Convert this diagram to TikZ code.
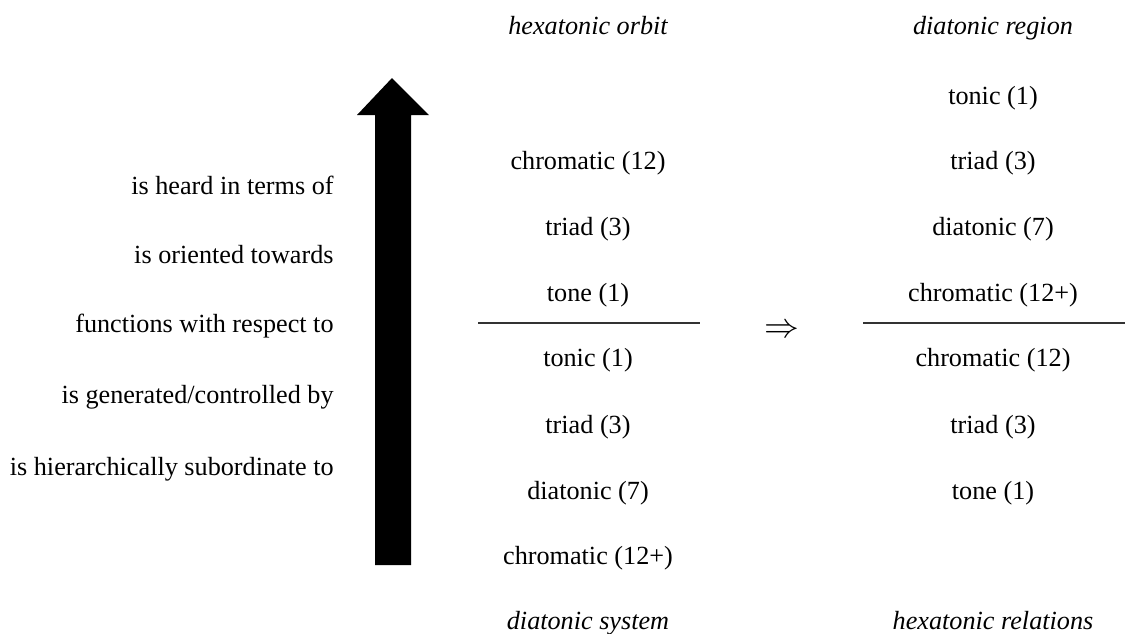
\documentclass[tikz,border=0pt]{standalone}
\usepackage{fontspec}
\setmainfont{Liberation Serif}
\usetikzlibrary{positioning}

\begin{document}
\begin{tikzpicture}[x=0.5pt,y=-0.5pt,
  every node/.style={font=\fontsize{13.1}{16}\selectfont,inner sep=0pt,
    text height=0.68em,text depth=0.22em},
  rel/.style={anchor=east},
  title/.style={font=\fontsize{13.1}{16}\selectfont\itshape},
  bar/.style={line width=0.6pt,black!80}]
\useasboundingbox (0,0) rectangle (1125,633);

% relations
\node[rel] (r1) at (334,190) {is heard in terms of};
\node[rel] (r2) at (334,259) {is oriented towards};
\node[rel] (r3) at (334,328) {functions with respect to};
\node[rel] (r4) at (334,399) {is generated/controlled by};
\node[rel] (r5) at (334,471) {is hierarchically subordinate to};

% big arrow
\fill (375,565) -- (375,115) -- (357,115) -- (392,78) -- (429,115)
  -- (411,115) -- (411,565) -- cycle;

% diatonic system / hexatonic orbit
\node[title] (ho) at (588,30) {hexatonic orbit};
\node (a1) at (588,165) {chromatic (12)};
\node (a2) at (588,231) {triad (3)};
\node (a3) at (588,297) {tone (1)};
\node (b1) at (588,362) {tonic (1)};
\node (b2) at (588,429) {triad (3)};
\node (b3) at (588,495) {diatonic (7)};
\node (b4) at (588,560) {chromatic (12+)};
\node[title] (ds) at (588,625) {diatonic system};
\coordinate (l1) at (478,323);
\coordinate (l2) at (700,323);
\draw[bar] (l1) -- (l2);

\node[scale=1.45] (impl) at (782,331) {$\Rightarrow$};

% hexatonic relations / diatonic region
\node[title] (dr) at (993,30) {diatonic region};
\node (c1) at (993,100) {tonic (1)};
\node (c2) at (993,165) {triad (3)};
\node (c3) at (993,231) {diatonic (7)};
\node (c4) at (993,297) {chromatic (12+)};
\node (d1) at (993,362) {chromatic (12)};
\node (d2) at (993,429) {triad (3)};
\node (d3) at (993,495) {tone (1)};
\node[title] (hr) at (993,625) {hexatonic relations};
\coordinate (l3) at (863,323);
\coordinate (l4) at (1125,323);
\draw[bar] (l3) -- (l4);
\end{tikzpicture}
\end{document}
